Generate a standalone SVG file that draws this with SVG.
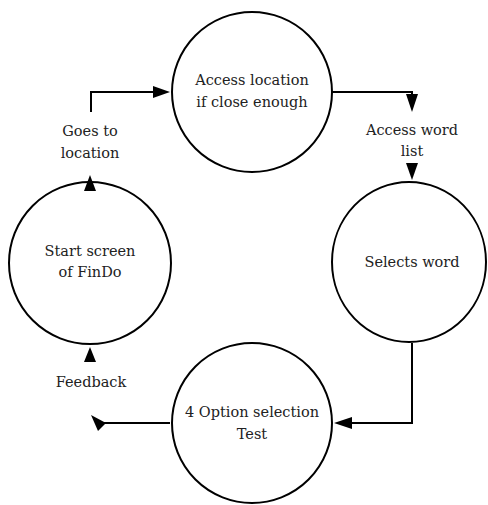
<svg xmlns="http://www.w3.org/2000/svg" width="488" height="505" viewBox="0 0 488 505">
<style>
.node{fill:#fff;stroke:#000;stroke-width:2}
.lbl{font-family:"DejaVu Serif","Liberation Serif",serif;font-size:14.5px;fill:#222;text-anchor:middle}
.conn{fill:none;stroke:#000;stroke-width:2}
.ah{fill:#000;stroke:none}
</style>
<rect width="488" height="505" fill="#fff"/>
<g id="n-access-location">
<circle class="node" cx="252" cy="92" r="80"/>
<text class="lbl" x="252" y="85">Access location</text>
<text class="lbl" x="252" y="107">if close enough</text>
</g>
<g id="n-selects-word">
<ellipse class="node" cx="409" cy="262" rx="77" ry="80"/>
<text class="lbl" x="412" y="267">Selects word</text>
</g>
<g id="n-option-test">
<circle class="node" cx="252" cy="423" r="80"/>
<text class="lbl" x="252" y="417">4 Option selection</text>
<text class="lbl" x="252" y="439">Test</text>
</g>
<g id="n-start">
<circle class="node" cx="90" cy="263" r="81"/>
<text class="lbl" x="90" y="256">Start screen</text>
<text class="lbl" x="90" y="277">of FinDo</text>
</g>
<g id="connectors">
<polyline class="conn" points="91,112 91,92 156,92"/>
<polygon class="ah" points="170,92 153,86 153,98"/>
<polyline class="conn" points="332,92 412,92 412,98"/>
<polygon class="ah" points="412,112 406,94 418,94"/>
<polygon class="ah" points="412,180 406,163 418,163"/>
<polyline class="conn" points="412,343 412,423 346,423"/>
<polygon class="ah" points="334,423 352,417 352,429"/>
<polyline class="conn" points="170,423 102,423"/>
<polygon class="ah" points="91,415 106,423 98,431"/>
<polygon class="ah" points="90,175 84,191 96,191"/>
<polygon class="ah" points="90,347 84,362 96,362"/>
<text class="lbl" x="90" y="136">Goes to</text>
<text class="lbl" x="90" y="158">location</text>
<text class="lbl" x="412" y="135">Access word</text>
<text class="lbl" x="412" y="156">list</text>
<text class="lbl" x="91" y="387">Feedback</text>
</g>
</svg>
